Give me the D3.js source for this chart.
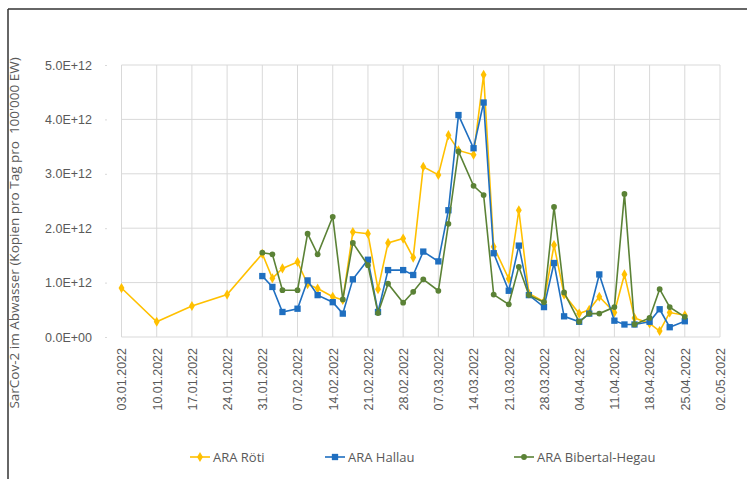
<!DOCTYPE html>
<html lang="de">
<head>
<meta charset="UTF-8">
<title>SarCov-2 im Abwasser</title>
<script src="https://cdn.jsdelivr.net/npm/d3@7"></script>
<style>
    body { margin: 0; background: #fff; }
    svg { display: block; font-family: "Open Sans", sans-serif; }
    .tick text { fill: #595959; font-size: 12.5px; }
    .legend text { fill: #595959; font-size: 13px; }
</style>
</head>
<body>
<svg id="chart" width="747" height="479"></svg>
<script>
    // Röti has four extra early samples in January
    let rotiDates = ["2022-01-03", "2022-01-10", "2022-01-17", "2022-01-24"];
    let rotiEarly = [0.90e12, 0.28e12, 0.57e12, 0.78e12];

    let sampleDates = [
        "2022-01-31", "2022-02-02", "2022-02-04", "2022-02-07", "2022-02-09", "2022-02-11",
        "2022-02-14", "2022-02-16", "2022-02-18", "2022-02-21", "2022-02-23", "2022-02-25",
        "2022-02-28", "2022-03-02", "2022-03-04", "2022-03-07", "2022-03-09", "2022-03-11",
        "2022-03-14", "2022-03-16", "2022-03-18", "2022-03-21", "2022-03-23", "2022-03-25",
        "2022-03-28", "2022-03-30", "2022-04-01", "2022-04-04", "2022-04-06", "2022-04-08",
        "2022-04-11", "2022-04-13", "2022-04-15", "2022-04-18", "2022-04-20", "2022-04-22",
        "2022-04-25"
    ];

    let rotiValues = [
        1.53, 1.08, 1.26, 1.38, 0.97, 0.89, 0.74, 0.68, 1.93, 1.90, 0.88, 1.73,
        1.81, 1.46, 3.13, 2.98, 3.71, 3.43, 3.35, 4.82, 1.66, 1.07, 2.33, 0.80,
        0.65, 1.69, 0.78, 0.43, 0.50, 0.74, 0.45, 1.15, 0.35, 0.25, 0.11, 0.45, 0.40
    ].map(v => v * 1e12);

    let hallauValues = [
        1.12, 0.92, 0.46, 0.52, 1.04, 0.77, 0.64, 0.43, 1.06, 1.42, 0.46, 1.23,
        1.23, 1.14, 1.57, 1.39, 2.33, 4.08, 3.47, 4.31, 1.54, 0.85, 1.68, 0.77,
        0.55, 1.36, 0.38, 0.28, 0.43, 1.15, 0.30, 0.23, 0.23, 0.28, 0.51, 0.18, 0.29
    ].map(v => v * 1e12);

    let bibertalValues = [
        1.55, 1.52, 0.86, 0.86, 1.90, 1.52, 2.21, 0.69, 1.73, 1.32, 0.44, 0.98,
        0.63, 0.83, 1.06, 0.85, 2.08, 3.41, 2.78, 2.61, 0.78, 0.60, 1.29, 0.77,
        0.64, 2.39, 0.82, 0.28, 0.43, 0.43, 0.55, 2.63, 0.23, 0.35, 0.88, 0.55, 0.37
    ].map(v => v * 1e12);

    let yTicks = [0, 1e12, 2e12, 3e12, 4e12, 5e12];
    let seriesNames = ["ARA Röti", "ARA Hallau", "ARA Bibertal-Hegau"];
    let seriesColors = ["#ffc000", "#1f6fc0", "#5b8236"];

    let parse = d3.utcParse("%Y-%m-%d");
    let firstTick = parse("2022-01-03");
    let weekTicks = d3.range(18).map(i => d3.utcDay.offset(firstTick, 7 * i)); // 03.01 .. 02.05

    let series = [
        { name: seriesNames[0], color: seriesColors[0], shape: d3.symbolDiamond, size: 30,
          points: rotiDates.concat(sampleDates).map((d, i) => ({ date: parse(d), value: rotiEarly.concat(rotiValues)[i] })) },
        { name: seriesNames[1], color: seriesColors[1], shape: d3.symbolSquare, size: 40,
          points: sampleDates.map((d, i) => ({ date: parse(d), value: hallauValues[i] })) },
        { name: seriesNames[2], color: seriesColors[2], shape: d3.symbolCircle, size: 26,
          points: sampleDates.map((d, i) => ({ date: parse(d), value: bibertalValues[i] })) }
    ];

    let margin = { left: 121.5, right: 27, top: 65, bottom: 142 };
    let width = 747, height = 479;

    let svg = d3.select('#chart');

    // frame lines (left + top)
    svg.append('line').attr('x1', 8).attr('x2', 8).attr('y1', 9).attr('y2', 479)
        .attr('stroke', '#333').attr('stroke-width', 1.5);
    svg.append('line').attr('x1', 8).attr('x2', 747).attr('y1', 9).attr('y2', 9)
        .attr('stroke', '#333').attr('stroke-width', 1.5);

    let x = d3.scaleUtc()
        .domain([weekTicks[0], weekTicks[weekTicks.length - 1]])
        .range([margin.left, width - margin.right]);

    let y = d3.scaleLinear()
        .domain([0, 5e12])
        .range([height - margin.bottom, margin.top]);

    // gridlines
    let grid = svg.append('g');
    grid.selectAll('line.h').data(yTicks).enter().append('line')
        .attr('class', 'h')
        .attr('x1', margin.left).attr('x2', width - margin.right)
        .attr('y1', d => y(d)).attr('y2', d => y(d))
        .attr('stroke', '#d9d9d9').attr('stroke-width', 1);
    grid.selectAll('line.v').data(weekTicks).enter().append('line')
        .attr('class', 'v')
        .attr('x1', d => x(d)).attr('x2', d => x(d))
        .attr('y1', margin.top).attr('y2', y(0))
        .attr('stroke', '#d9d9d9').attr('stroke-width', 1);

    // y axis
    let yAxis = svg.append('g')
        .attr('transform', 'translate(107,0)')
        .call(d3.axisLeft(y).tickValues(yTicks).tickSize(2).tickPadding(13)
            .tickFormat(v => v === 0 ? "0.0E+00" : (v / 1e12).toFixed(1) + "E+12"));
    yAxis.select('.domain').remove();
    yAxis.selectAll('.tick line').attr('stroke', '#d9d9d9');

    // x axis
    let xAxis = svg.append('g')
        .attr('transform', 'translate(0,' + y(0) + ')')
        .call(d3.axisBottom(x).tickValues(weekTicks).tickSize(0).tickFormat(d3.utcFormat("%d.%m.%Y")));
    xAxis.select('.domain').remove();
    xAxis.selectAll('.tick text')
        .attr('transform', 'rotate(-90)')
        .attr('text-anchor', 'end')
        .attr('x', -11)
        .attr('y', 0)
        .attr('dy', '0.35em');

    // y title
    svg.append('text')
        .attr('transform', 'translate(19,233) rotate(-90)')
        .attr('text-anchor', 'middle')
        .attr('fill', '#595959')
        .style('font-size', '13.5px')
        .style('white-space', 'pre')
        .text("SarCov-2 im Abwasser (Kopien pro Tag pro  100'000 EW)");

    // lines + markers
    let line = d3.line().x(d => x(d.date)).y(d => y(d.value));

    series.forEach(s => {
        let g = svg.append('g');
        g.append('path')
            .datum(s.points)
            .attr('d', line)
            .attr('fill', 'none')
            .attr('stroke', s.color)
            .attr('stroke-width', 1.6);
        g.selectAll('path.m').data(s.points).enter().append('path')
            .attr('class', 'm')
            .attr('transform', d => 'translate(' + x(d.date) + ',' + y(d.value) + ')')
            .attr('d', d3.symbol().type(s.shape).size(s.size))
            .attr('fill', s.color);
    });

    // legend
    let legendX = [190, 325, 514];
    let legend = svg.append('g').attr('class', 'legend');
    series.forEach((s, i) => {
        let g = legend.append('g').attr('transform', 'translate(' + legendX[i] + ',457)');
        g.append('line').attr('x1', 0).attr('x2', 20).attr('y1', 0).attr('y2', 0)
            .attr('stroke', s.color).attr('stroke-width', 1.6);
        g.append('path').attr('transform', 'translate(10,0)')
            .attr('d', d3.symbol().type(s.shape).size(s.size))
            .attr('fill', s.color);
        g.append('text').attr('x', 23).attr('y', 0).attr('dy', '0.35em').text(s.name);
    });
</script>
</body>
</html>
